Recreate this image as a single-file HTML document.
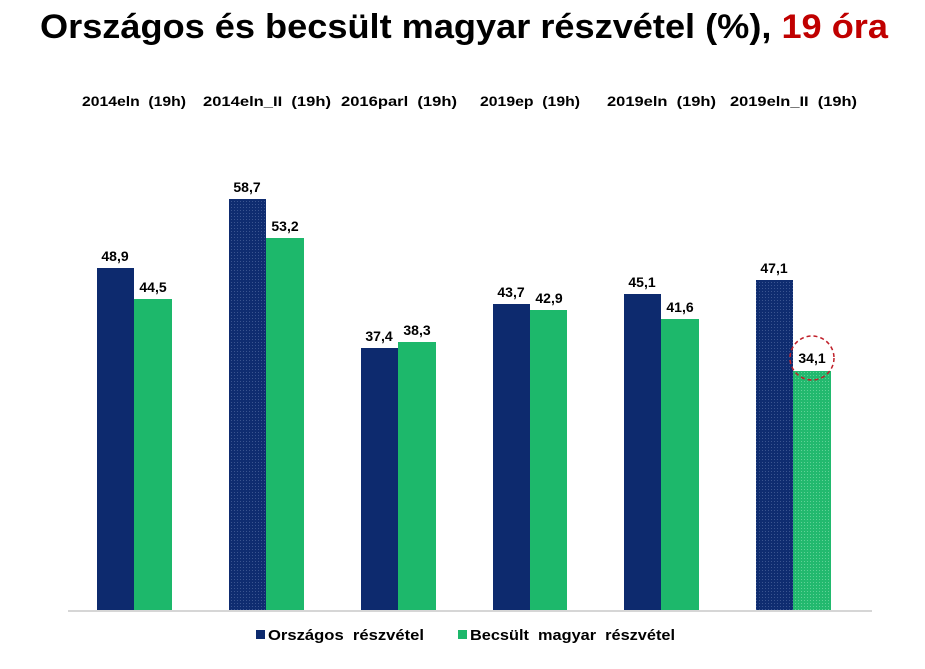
<!DOCTYPE html>
<html><head><meta charset="utf-8"><style>
body{margin:0;background:#fff;width:925px;height:664px;overflow:hidden;font-family:"Liberation Sans",Arial,sans-serif}
</style></head><body>
<svg width="925" height="664" xmlns="http://www.w3.org/2000/svg" font-family="Liberation Sans, Arial, sans-serif">
<defs>
<pattern id="dots" width="3" height="3" patternUnits="userSpaceOnUse">
<rect width="3" height="3" fill="#0f2c70"/><rect width="1" height="1" fill="#3a5490"/>
</pattern>
<pattern id="gdots" width="3" height="3" patternUnits="userSpaceOnUse">
<rect width="3" height="3" fill="#22b96e"/><rect width="1" height="1" fill="#5fd196"/>
</pattern>
</defs>
<text x="40" y="38" font-size="34" font-weight="bold" fill="#000" textLength="848" lengthAdjust="spacingAndGlyphs">Országos és becsült magyar részvétel (%), <tspan fill="#c00000">19 óra</tspan></text>
<g font-size="14" font-weight="bold" fill="#000" lengthAdjust="spacingAndGlyphs">
<text x="82" y="106" textLength="104" lengthAdjust="spacingAndGlyphs" xml:space="preserve">2014eln  (19h)</text>
<text x="203" y="106" textLength="128" lengthAdjust="spacingAndGlyphs" xml:space="preserve">2014eln_II  (19h)</text>
<text x="341" y="106" textLength="116" lengthAdjust="spacingAndGlyphs" xml:space="preserve">2016parl  (19h)</text>
<text x="480" y="106" textLength="100" lengthAdjust="spacingAndGlyphs" xml:space="preserve">2019ep  (19h)</text>
<text x="607" y="106" textLength="109" lengthAdjust="spacingAndGlyphs" xml:space="preserve">2019eln  (19h)</text>
<text x="730" y="106" textLength="127" lengthAdjust="spacingAndGlyphs" xml:space="preserve">2019eln_II  (19h)</text>
</g>
<line x1="68" y1="611" x2="872" y2="611" stroke="#c8c8c8" stroke-width="1.5"/>
<g>
<rect x="97" y="268" width="37" height="342" fill="#0d2a6e"/>
<rect x="134" y="299" width="38" height="311" fill="#1db86b"/>
<rect x="229" y="199" width="37" height="411" fill="url(#dots)"/>
<rect x="266" y="238" width="38" height="372" fill="#1db86b"/>
<rect x="361" y="348" width="37" height="262" fill="#0d2a6e"/>
<rect x="398" y="342" width="38" height="268" fill="#1db86b"/>
<rect x="493" y="304" width="37" height="306" fill="#0d2a6e"/>
<rect x="530" y="310" width="37" height="300" fill="#1db86b"/>
<rect x="624" y="294" width="37" height="316" fill="#0d2a6e"/>
<rect x="661" y="319" width="38" height="291" fill="#1db86b"/>
<rect x="756" y="280" width="37" height="330" fill="url(#dots)"/>
<rect x="793" y="371" width="38" height="239" fill="url(#gdots)"/>
</g>
<g font-size="14" font-weight="bold" fill="#000" text-anchor="middle">
<text x="115" y="261">48,9</text><text x="153" y="292">44,5</text>
<text x="247" y="192">58,7</text><text x="285" y="231">53,2</text>
<text x="379" y="341">37,4</text><text x="417" y="335">38,3</text>
<text x="511" y="297">43,7</text><text x="549" y="303">42,9</text>
<text x="642" y="287">45,1</text><text x="680" y="312">41,6</text>
<text x="774" y="273">47,1</text><text x="812" y="363">34,1</text>
</g>
<circle cx="812" cy="358" r="22" fill="none" stroke="#c0202a" stroke-width="1.5" stroke-dasharray="4,3"/>
<rect x="256" y="630" width="9" height="9" fill="#0d2a6e"/>
<text x="268" y="640" font-size="15" font-weight="bold" textLength="156" lengthAdjust="spacingAndGlyphs" xml:space="preserve">Országos  részvétel</text>
<rect x="458" y="630" width="9" height="9" fill="#1db86b"/>
<text x="470" y="640" font-size="15" font-weight="bold" textLength="205" lengthAdjust="spacingAndGlyphs" xml:space="preserve">Becsült  magyar  részvétel</text>
</svg>
</body></html>
